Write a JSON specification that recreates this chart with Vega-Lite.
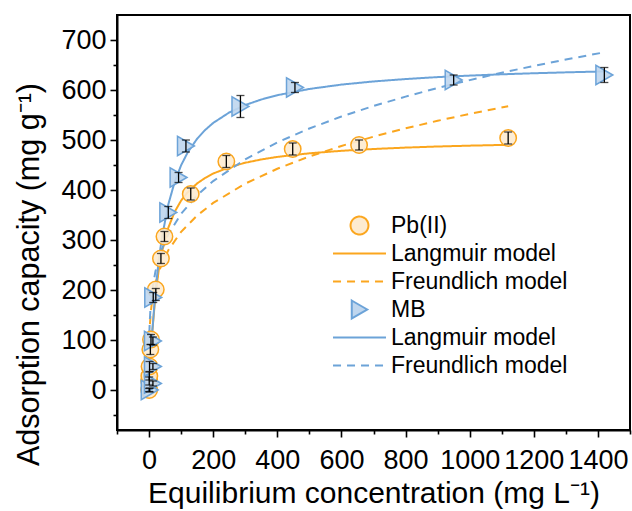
{
  "$schema": "https://vega.github.io/schema/vega-lite/v6.json",
  "width": 513,
  "height": 415,
  "autosize": {"type": "none"},
  "padding": {"left": 117, "top": 15, "right": 2, "bottom": 81},
  "background": "white",
  "config": {
    "view": {"stroke": "black", "strokeWidth": 2},
    "font": "Liberation Sans",
    "axis": {"grid": false, "domainColor": "black", "domainWidth": 2, "tickColor": "black", "tickWidth": 1.6, "labelColor": "black", "titleColor": "black", "labelFont": "Liberation Sans", "titleFont": "Liberation Sans", "labelFontSize": 27, "titleFontSize": 30, "titleFontWeight": "normal", "labelOverlap": false, "labelFlush": false, "labelBound": false},
    "legend": {"symbolSize": 320, "symbolStrokeWidth": 2, "labelFontSize": 23, "labelFont": "Liberation Sans", "labelColor": "black", "labelLimit": 400, "padding": 0, "rowPadding": 1, "labelOffset": 20, "gridAlign": "all"}
  },
  "datasets": {
    "pts": [
      {"series": "Pb(II)", "C": 0.3, "q": 0, "lo": -3, "hi": 3},
      {"series": "Pb(II)", "C": 0.5, "q": 18, "lo": 10, "hi": 26},
      {"series": "Pb(II)", "C": 0.8, "q": 28, "lo": 20, "hi": 36},
      {"series": "Pb(II)", "C": 1.5, "q": 47, "lo": 37, "hi": 57},
      {"series": "Pb(II)", "C": 4, "q": 81, "lo": 71, "hi": 91},
      {"series": "Pb(II)", "C": 6, "q": 101, "lo": 91, "hi": 111},
      {"series": "Pb(II)", "C": 21, "q": 201, "lo": 179, "hi": 203},
      {"series": "Pb(II)", "C": 37, "q": 263, "lo": 253, "hi": 273},
      {"series": "Pb(II)", "C": 48, "q": 307, "lo": 297, "hi": 317},
      {"series": "Pb(II)", "C": 130, "q": 392, "lo": 380, "hi": 404},
      {"series": "Pb(II)", "C": 241, "q": 457, "lo": 445, "hi": 469},
      {"series": "Pb(II)", "C": 448, "q": 482, "lo": 470, "hi": 494},
      {"series": "Pb(II)", "C": 655, "q": 490, "lo": 480, "hi": 500},
      {"series": "Pb(II)", "C": 1120, "q": 504, "lo": 492, "hi": 516},
      {"series": "MB", "C": 2, "q": 0, "lo": -4, "hi": 4},
      {"series": "MB", "C": 12, "q": 13, "lo": 8, "hi": 18},
      {"series": "MB", "C": 12, "q": 47, "lo": 41, "hi": 53},
      {"series": "MB", "C": 12, "q": 98, "lo": 90, "hi": 106},
      {"series": "MB", "C": 13, "q": 185, "lo": 175, "hi": 195},
      {"series": "MB", "C": 60, "q": 355, "lo": 343, "hi": 367},
      {"series": "MB", "C": 92, "q": 425, "lo": 415, "hi": 435},
      {"series": "MB", "C": 115, "q": 488, "lo": 476, "hi": 500},
      {"series": "MB", "C": 285, "q": 567, "lo": 545, "hi": 589},
      {"series": "MB", "C": 455, "q": 605, "lo": 595, "hi": 615},
      {"series": "MB", "C": 950, "q": 620, "lo": 610, "hi": 630},
      {"series": "MB", "C": 1420, "q": 630, "lo": 615, "hi": 645}
    ],
    "curves": [
      {"series": "Pb Langmuir", "C": 0, "q": 0},
      {"series": "Pb Langmuir", "C": 2, "q": 28.6},
      {"series": "Pb Langmuir", "C": 5, "q": 65.9},
      {"series": "Pb Langmuir", "C": 10, "q": 116.5},
      {"series": "Pb Langmuir", "C": 20, "q": 189.4},
      {"series": "Pb Langmuir", "C": 30, "q": 239.2},
      {"series": "Pb Langmuir", "C": 40, "q": 275.5},
      {"series": "Pb Langmuir", "C": 60, "q": 324.6},
      {"series": "Pb Langmuir", "C": 80, "q": 356.5},
      {"series": "Pb Langmuir", "C": 100, "q": 378.8},
      {"series": "Pb Langmuir", "C": 120, "q": 395.2},
      {"series": "Pb Langmuir", "C": 150, "q": 413.2},
      {"series": "Pb Langmuir", "C": 175, "q": 424.2},
      {"series": "Pb Langmuir", "C": 200, "q": 432.9},
      {"series": "Pb Langmuir", "C": 250, "q": 445.6},
      {"series": "Pb Langmuir", "C": 300, "q": 454.5},
      {"series": "Pb Langmuir", "C": 350, "q": 461.1},
      {"series": "Pb Langmuir", "C": 400, "q": 466.2},
      {"series": "Pb Langmuir", "C": 500, "q": 473.4},
      {"series": "Pb Langmuir", "C": 600, "q": 478.4},
      {"series": "Pb Langmuir", "C": 700, "q": 482.0},
      {"series": "Pb Langmuir", "C": 800, "q": 484.8},
      {"series": "Pb Langmuir", "C": 900, "q": 487.0},
      {"series": "Pb Langmuir", "C": 1000, "q": 488.7},
      {"series": "Pb Langmuir", "C": 1120, "q": 490.4},
      {"series": "Pb Freundlich", "C": 1, "q": 103.8},
      {"series": "Pb Freundlich", "C": 2, "q": 122.8},
      {"series": "Pb Freundlich", "C": 5, "q": 153.2},
      {"series": "Pb Freundlich", "C": 10, "q": 181.2},
      {"series": "Pb Freundlich", "C": 20, "q": 214.3},
      {"series": "Pb Freundlich", "C": 40, "q": 253.4},
      {"series": "Pb Freundlich", "C": 60, "q": 279.6},
      {"series": "Pb Freundlich", "C": 100, "q": 316.4},
      {"series": "Pb Freundlich", "C": 150, "q": 349.0},
      {"series": "Pb Freundlich", "C": 200, "q": 374.2},
      {"series": "Pb Freundlich", "C": 300, "q": 412.8},
      {"series": "Pb Freundlich", "C": 400, "q": 442.5},
      {"series": "Pb Freundlich", "C": 500, "q": 467.0},
      {"series": "Pb Freundlich", "C": 600, "q": 488.1},
      {"series": "Pb Freundlich", "C": 700, "q": 506.7},
      {"series": "Pb Freundlich", "C": 800, "q": 523.3},
      {"series": "Pb Freundlich", "C": 900, "q": 538.4},
      {"series": "Pb Freundlich", "C": 1000, "q": 552.3},
      {"series": "Pb Freundlich", "C": 1120, "q": 567.7},
      {"series": "MB Langmuir", "C": 0, "q": 0},
      {"series": "MB Langmuir", "C": 2, "q": 27.2},
      {"series": "MB Langmuir", "C": 5, "q": 64.0},
      {"series": "MB Langmuir", "C": 10, "q": 116.7},
      {"series": "MB Langmuir", "C": 20, "q": 198.2},
      {"series": "MB Langmuir", "C": 30, "q": 258.4},
      {"series": "MB Langmuir", "C": 40, "q": 304.7},
      {"series": "MB Langmuir", "C": 60, "q": 371.1},
      {"series": "MB Langmuir", "C": 80, "q": 416.5},
      {"series": "MB Langmuir", "C": 100, "q": 449.5},
      {"series": "MB Langmuir", "C": 120, "q": 474.6},
      {"series": "MB Langmuir", "C": 150, "q": 502.6},
      {"series": "MB Langmuir", "C": 175, "q": 520.1},
      {"series": "MB Langmuir", "C": 200, "q": 534.1},
      {"series": "MB Langmuir", "C": 250, "q": 555.0},
      {"series": "MB Langmuir", "C": 300, "q": 569.9},
      {"series": "MB Langmuir", "C": 350, "q": 581.0},
      {"series": "MB Langmuir", "C": 400, "q": 589.6},
      {"series": "MB Langmuir", "C": 500, "q": 602.1},
      {"series": "MB Langmuir", "C": 600, "q": 610.8},
      {"series": "MB Langmuir", "C": 700, "q": 617.1},
      {"series": "MB Langmuir", "C": 800, "q": 621.9},
      {"series": "MB Langmuir", "C": 900, "q": 625.8},
      {"series": "MB Langmuir", "C": 1000, "q": 628.8},
      {"series": "MB Langmuir", "C": 1100, "q": 631.4},
      {"series": "MB Langmuir", "C": 1200, "q": 633.5},
      {"series": "MB Langmuir", "C": 1300, "q": 635.3},
      {"series": "MB Langmuir", "C": 1420, "q": 637.2},
      {"series": "MB Freundlich", "C": 1, "q": 114.1},
      {"series": "MB Freundlich", "C": 2, "q": 135.2},
      {"series": "MB Freundlich", "C": 5, "q": 169.3},
      {"series": "MB Freundlich", "C": 10, "q": 200.6},
      {"series": "MB Freundlich", "C": 20, "q": 237.7},
      {"series": "MB Freundlich", "C": 40, "q": 281.7},
      {"series": "MB Freundlich", "C": 60, "q": 311.1},
      {"series": "MB Freundlich", "C": 100, "q": 352.6},
      {"series": "MB Freundlich", "C": 150, "q": 389.4},
      {"series": "MB Freundlich", "C": 200, "q": 417.9},
      {"series": "MB Freundlich", "C": 300, "q": 461.5},
      {"series": "MB Freundlich", "C": 400, "q": 495.2},
      {"series": "MB Freundlich", "C": 500, "q": 523.0},
      {"series": "MB Freundlich", "C": 600, "q": 546.9},
      {"series": "MB Freundlich", "C": 700, "q": 568.0},
      {"series": "MB Freundlich", "C": 800, "q": 586.8},
      {"series": "MB Freundlich", "C": 900, "q": 604.1},
      {"series": "MB Freundlich", "C": 1000, "q": 619.8},
      {"series": "MB Freundlich", "C": 1100, "q": 634.5},
      {"series": "MB Freundlich", "C": 1200, "q": 648.2},
      {"series": "MB Freundlich", "C": 1300, "q": 661.0},
      {"series": "MB Freundlich", "C": 1420, "q": 675.4}
    ]
  },
  "encoding": {
    "x": {"field": "C", "type": "quantitative", "scale": {"domain": [-100, 1500], "nice": false, "zero": false},
      "axis": {"title": "Equilibrium concentration (mg L⁻¹)", "values": [-100, 0, 100, 200, 300, 400, 500, 600, 700, 800, 900, 1000, 1100, 1200, 1300, 1400, 1500], "format": "d", "labelExpr": "datum.value % 200 === 0 ? datum.label : ''", "tickSize": {"condition": {"test": "datum.value % 200 === 0", "value": 7}, "value": 4}, "labelPadding": 10, "titlePadding": 5}},
    "y": {"field": "q", "type": "quantitative", "scale": {"domain": [-80, 750], "nice": false, "zero": false},
      "axis": {"title": "Adsorption capacity (mg g⁻¹)", "titleFontSize": 30.5, "values": [-50, 0, 50, 100, 150, 200, 250, 300, 350, 400, 450, 500, 550, 600, 650, 700], "format": "d", "labelExpr": "datum.value % 100 === 0 ? datum.label : ''", "tickSize": {"condition": {"test": "datum.value % 100 === 0", "value": 7}, "value": 4}, "labelPadding": 4, "titlePadding": 16, "titleY": 259}}
  },
  "layer": [
    {
      "data": {"name": "curves"},
      "mark": {"type": "line", "strokeWidth": 2, "clip": true},
      "encoding": {
        "stroke": {"field": "series", "type": "nominal",
          "scale": {"domain": ["Pb(II)", "Pb Langmuir", "Pb Freundlich", "MB", "MB Langmuir", "MB Freundlich"], "range": ["#FBA61E", "#FBA61E", "#FBA61E", "#6CA3D8", "#6CA3D8", "#6CA3D8"]},
          "legend": {"title": null, "orient": "none", "legendX": 231, "legendY": 199, "labelExpr": "indexof(datum.label, 'Langmuir') >= 0 ? 'Langmuir model' : (indexof(datum.label, 'Freundlich') >= 0 ? 'Freundlich model' : datum.label)"}},
        "strokeDash": {"field": "series", "type": "nominal",
          "scale": {"domain": ["Pb(II)", "Pb Langmuir", "Pb Freundlich", "MB", "MB Langmuir", "MB Freundlich"], "range": [[1, 0], [1, 0], [8, 6], [1, 0], [1, 0], [8, 6]]},
          "legend": {"title": null, "orient": "none", "legendX": 231, "legendY": 199, "labelExpr": "indexof(datum.label, 'Langmuir') >= 0 ? 'Langmuir model' : (indexof(datum.label, 'Freundlich') >= 0 ? 'Freundlich model' : datum.label)"}}
      }
    },
    {
      "data": {"name": "pts"},
      "mark": {"type": "point", "strokeWidth": 1.5, "opacity": 1, "fillOpacity": 0.9, "clip": true},
      "encoding": {
        "stroke": {"field": "series", "type": "nominal"},
        "fill": {"field": "series", "type": "nominal",
          "scale": {"domain": ["Pb(II)", "Pb Langmuir", "Pb Freundlich", "MB", "MB Langmuir", "MB Freundlich"], "range": ["#FDEBD0", "transparent", "transparent", "#BFD6EE", "transparent", "transparent"]},
          "legend": {"title": null, "orient": "none", "legendX": 231, "legendY": 199, "labelExpr": "indexof(datum.label, 'Langmuir') >= 0 ? 'Langmuir model' : (indexof(datum.label, 'Freundlich') >= 0 ? 'Freundlich model' : datum.label)"}},
        "shape": {"field": "series", "type": "nominal",
          "scale": {"domain": ["Pb(II)", "Pb Langmuir", "Pb Freundlich", "MB", "MB Langmuir", "MB Freundlich"], "range": ["circle", "M-2.96,0L2.96,0", "M-2.96,0L2.96,0", "triangle-right", "M-2.96,0L2.96,0", "M-2.96,0L2.96,0"]},
          "legend": {"title": null, "orient": "none", "legendX": 231, "legendY": 199, "labelExpr": "indexof(datum.label, 'Langmuir') >= 0 ? 'Langmuir model' : (indexof(datum.label, 'Freundlich') >= 0 ? 'Freundlich model' : datum.label)"}},
        "size": {"condition": {"test": "datum.series === 'MB'", "value": 380}, "value": 270}
      }
    },
    {
      "data": {"name": "pts"},
      "mark": {"type": "rule", "color": "black", "strokeWidth": 1.3},
      "encoding": {"y": {"field": "lo", "type": "quantitative"}, "y2": {"field": "hi"}}
    },
    {
      "data": {"name": "pts"},
      "mark": {"type": "tick", "orient": "horizontal", "color": "black", "size": 8, "thickness": 1.3},
      "encoding": {"y": {"field": "lo", "type": "quantitative"}}
    },
    {
      "data": {"name": "pts"},
      "mark": {"type": "tick", "orient": "horizontal", "color": "black", "size": 8, "thickness": 1.3},
      "encoding": {"y": {"field": "hi", "type": "quantitative"}}
    }
  ]
}
